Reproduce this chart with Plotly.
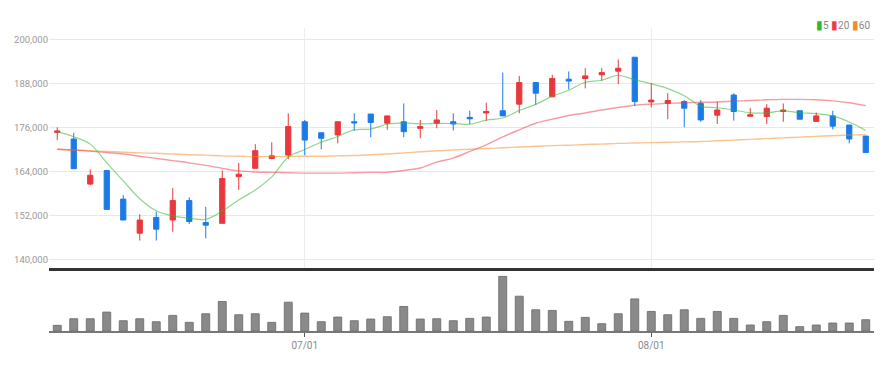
import plotly.graph_objects as go

# ---- data ----
opens = [174800, 173000, 160700, 164400, 156600, 147300, 151600, 150900, 156200, 150200,
         150000, 162700, 165000, 167700, 168600, 177700, 174700, 174100, 177700, 179800,
         177300, 177700, 175900, 177300, 177700, 178900, 180100, 180700, 182500, 188400,
         184500, 189300, 189500, 190500, 191500, 195300, 183100, 182700, 183200, 182700,
         179500, 185000, 179200, 179100, 180500, 180700, 177800, 179300, 176800, 173800]
highs = [176200, 174700, 164700, 164400, 157700, 152500, 153200, 159600, 157100, 154500,
         164400, 166500, 171600, 172100, 180000, 178200, 174700, 177700, 180000, 179800,
         179300, 182700, 178200, 180900, 180000, 180700, 182900, 191100, 190200, 188400,
         190500, 191400, 192300, 192300, 194700, 195300, 188200, 185500, 183600, 183600,
         183200, 185500, 181400, 182500, 182700, 180700, 180200, 180700, 176800, 173800]
lows = [172700, 164900, 160400, 153800, 150900, 145300, 145300, 147700, 149800, 145900,
        150000, 159100, 165000, 167500, 167500, 168600, 170200, 171800, 175300, 173500,
        175500, 173500, 173200, 175900, 175300, 177100, 177900, 179300, 180000, 182300,
        184500, 186500, 186800, 188900, 188000, 182000, 181600, 178400, 176200, 177700,
        177100, 178000, 179200, 177100, 177700, 178400, 177800, 175600, 171800, 169300]
closes = [175200, 164900, 163100, 153800, 150900, 150900, 148400, 156200, 150500, 149500,
          162200, 163400, 169800, 168400, 176400, 172700, 173200, 177700, 177400, 177500,
          179300, 175000, 176400, 178200, 177100, 178500, 180500, 179300, 188400, 185500,
          189500, 188800, 190200, 191100, 192300, 183200, 183600, 183500, 181400, 178200,
          180900, 180500, 179600, 181400, 180900, 178400, 179300, 176500, 173000, 169300]
ma5 = [175000, 173600, 171600, 166500, 161580, 156720, 153420, 152040, 151380, 151100,
       153360, 156360, 159080, 162660, 168040, 170140, 172100, 173680, 175480, 175700,
       177020, 177380, 177120, 177280, 177200, 177040, 178140, 178720, 180760, 182440,
       184640, 186300, 188480, 189020, 190380, 189120, 188080, 186740, 184800, 181980,
       181520, 180900, 180120, 180120, 180660, 180160, 179920, 179300, 177620, 175300]
ma20 = [170200, 170000, 169700, 169300, 168900, 168300, 167700, 167100, 166500, 165800,
        165000, 164300, 164000, 163900, 163800, 163700, 163700, 163700, 163800, 163900,
        163900, 164400, 165100, 166700, 167800, 169600, 171400, 173600, 175500, 177300,
        178400, 179400, 180100, 180900, 181600, 182200, 182500, 182700, 182900, 183000,
        183100, 183300, 183500, 183700, 183800, 183800, 183700, 183400, 182900, 182100]
ma60 = [170200, 170000, 169800, 169600, 169400, 169200, 169100, 168900, 168700, 168600,
        168400, 168300, 168200, 168200, 168200, 168300, 168300, 168400, 168500, 168700,
        168900, 169200, 169500, 169800, 170000, 170200, 170400, 170600, 170800, 171000,
        171200, 171300, 171500, 171600, 171800, 171900, 172000, 172100, 172200, 172300,
        172500, 172700, 172900, 173100, 173300, 173500, 173700, 173900, 174100, 174200]
volumes = [57, 123, 123, 190, 103, 123, 93, 157, 87, 173,
           297, 163, 173, 87, 290, 180, 93, 140, 103, 120,
           143, 247, 120, 123, 103, 127, 140, 550, 350, 213,
           207, 97, 137, 73, 173, 323, 197, 163, 213, 127,
           197, 127, 60, 93, 157, 43, 60, 80, 80, 113]  # thousands of shares
days = list(range(len(closes)))
month_tick_idx = [15, 36]
month_tick_labels = ["07/01", "08/01"]
price_ticks = [140000, 152000, 164000, 176000, 188000, 200000]

UP = "#e8383d"
DOWN = "#1b7be6"
FONT = "Liberation Sans Narrow, Roboto, sans-serif"

fig = go.Figure()

fig.add_trace(go.Scatter(x=days, y=ma60, mode="lines", line=dict(color="#f28c28", width=1.4, shape="spline"),
                         opacity=0.5, showlegend=False, hoverinfo="skip"))
fig.add_trace(go.Scatter(x=days, y=ma20, mode="lines", line=dict(color="#ee3a4a", width=1.4, shape="spline"),
                         opacity=0.5, showlegend=False, hoverinfo="skip"))
fig.add_trace(go.Scatter(x=days, y=ma5, mode="lines", line=dict(color="#2fb82f", width=1.2, shape="spline"),
                         opacity=0.55, showlegend=False, hoverinfo="skip"))

fig.add_trace(go.Candlestick(
    x=days, open=opens, high=highs, low=lows, close=closes,
    increasing=dict(line=dict(color=UP, width=1), fillcolor=UP),
    decreasing=dict(line=dict(color=DOWN, width=1), fillcolor=DOWN),
    whiskerwidth=0, showlegend=False, xaxis="x", yaxis="y"))

fig.add_trace(go.Bar(x=days, y=[v * 1000 for v in volumes], xaxis="x2", yaxis="y2",
                     marker=dict(color="#8a8a8a", line=dict(color="#767676", width=1)),
                     showlegend=False))

fig.update_layout(
    width=884, height=364,
    margin=dict(l=41, r=18, t=20, b=41),
    paper_bgcolor="white", plot_bgcolor="white",
    boxgap=0.55, bargap=0.52,
    font=dict(family=FONT, size=10, color="#999"),
    xaxis=dict(domain=[0, 1], anchor="y", range=[-0.5, 49.5], rangeslider=dict(visible=False),
               tickvals=month_tick_idx, showticklabels=False, showgrid=True, gridcolor="#ececec",
               gridwidth=1, showline=True, linecolor="#333", linewidth=2.5, ticks="", zeroline=False),
    yaxis=dict(domain=[0.208, 1], anchor="x", range=[137820, 203270], tickvals=price_ticks,
               tickformat=",d", showgrid=True, gridcolor="#e8e8e8", zeroline=False, automargin=False,
               ticks="", tickfont=dict(family=FONT, size=9.5, color="#9a9a9a")),
    xaxis2=dict(domain=[0, 1], anchor="y2", range=[-0.5, 49.5], tickvals=month_tick_idx,
                ticktext=month_tick_labels, showgrid=False, showline=True, linecolor="#777",
                linewidth=1.5, ticks="outside", ticklen=4, tickcolor="#555", tickwidth=1,
                automargin=False,
                tickfont=dict(family=FONT, size=10, color="#8a8a8a"), zeroline=False),
    yaxis2=dict(domain=[0, 0.2], anchor="x2", range=[0, 610000], showgrid=False,
                showticklabels=False, zeroline=False, ticks=""),
    annotations=[dict(
        xref="paper", yref="paper", x=0.998, y=1.01, xanchor="right", yanchor="middle",
        showarrow=False, font=dict(family=FONT, size=10, color="#888"),
        text=('<span style="color:#2fb82f;font-size:12px">▮</span>5 '
              '<span style="color:#ee3a4a;font-size:12px">▮</span>20 '
              '<span style="color:#f28c28;font-size:12px">▮</span>60'))],
)

fig.write_html("out.html")
